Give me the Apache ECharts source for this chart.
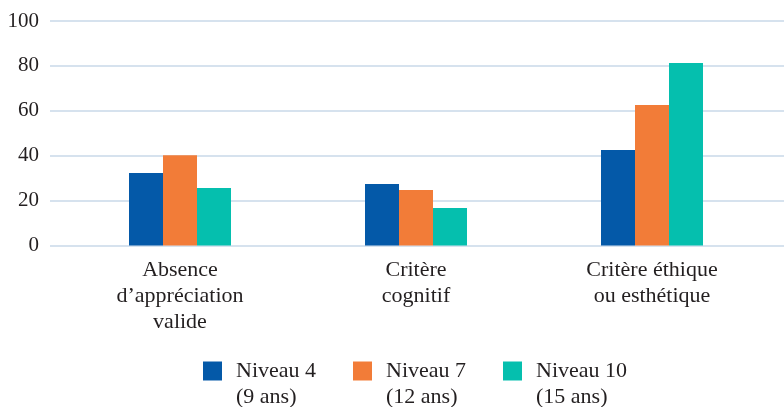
<!DOCTYPE html>
<html><head><meta charset="utf-8">
<script src="https://cdn.jsdelivr.net/npm/echarts@6/dist/echarts.min.js"></script>
<style>html,body{margin:0;padding:0;background:#fff}#c{width:784px;height:407px}</style>
</head><body><div id="c"></div>
<script>
const categories = ['Absence\nd\u2019appréciation\nvalide', 'Critère\ncognitif', 'Critère éthique\nou esthétique'];
const seriesNames = ['Niveau 4', 'Niveau 7', 'Niveau 10'];
const seriesSub = ['(9 ans)', '(12 ans)', '(15 ans)'];
const niveau4 = [32.3, 27.4, 42.5];
const niveau7 = [40.2, 24.7, 62.6];
const niveau10 = [25.6, 16.7, 81.3];
const yTicks = [0, 20, 40, 60, 80, 100];
const colors = ['#0459a8', '#f27c38', '#05bfae'];
const values = [niveau4, niveau7, niveau10];

const font = 'Liberation Serif';
const textColor = '#231f20';
const chart = echarts.init(document.getElementById('c'));
const legendLeft = [198, 348, 498];
chart.setOption({
  animation: false,
  grid: [
    {left: 50, right: 0, top: 21, bottom: 161.5},
    {left: 62, width: 708, top: 21, bottom: 161.5}
  ],
  xAxis: [
    {gridIndex: 0, type: 'value', show: false, min: 0, max: 1},
    {gridIndex: 1, type: 'category', data: categories,
     axisLine: {show: false}, axisTick: {show: false},
     axisLabel: {fontFamily: font, fontSize: 22, color: textColor, lineHeight: 26, margin: 12}}
  ],
  yAxis: [
    {gridIndex: 0, type: 'value', min: yTicks[0], max: yTicks[yTicks.length-1], interval: 20,
     axisLine: {show: false}, axisTick: {show: false},
     axisLabel: {fontFamily: font, fontSize: 21, color: textColor, margin: 11},
     splitLine: {lineStyle: {color: '#c8d8e8', width: 1.5}}},
    {gridIndex: 1, type: 'value', min: 0, max: 100, interval: 20, show: false}
  ],
  legend: seriesNames.map((n, i) => ({
    data: [n], left: legendLeft[i], top: 327, itemWidth: 19, itemHeight: 19, itemGap: 0,
    icon: 'rect',
    formatter: name => '{e|}\n{a|' + name + '}\n{a|' + seriesSub[i] + '}',
    textStyle: {fontFamily: font, fontSize: 22, color: textColor, lineHeight: 26,
      rich: {
        e: {fontFamily: font, fontSize: 22, lineHeight: 26},
        a: {fontFamily: font, fontSize: 22, color: textColor, lineHeight: 26, padding: [0, 0, 0, 9]}
      }}
  })),
  series: seriesNames.map((n, i) => ({
    name: n, type: 'bar', xAxisIndex: 1, yAxisIndex: 1,
    data: values[i], barWidth: 34, barGap: '0%',
    itemStyle: {color: colors[i]}
  }))
});
</script></body></html>
